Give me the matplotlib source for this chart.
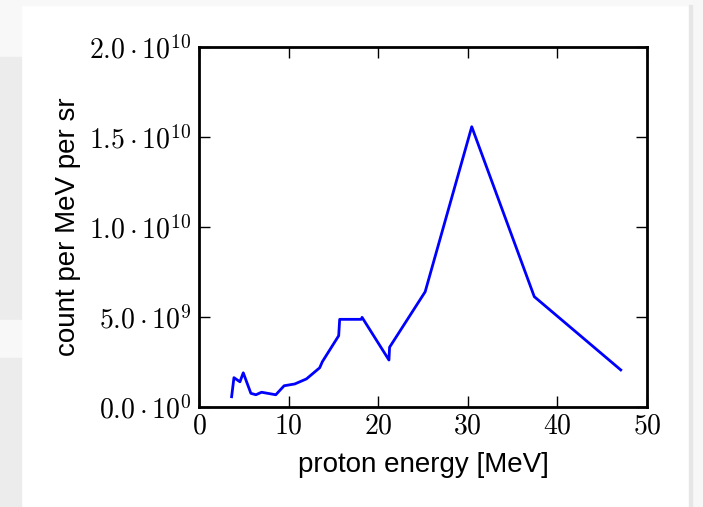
import matplotlib
matplotlib.use("Agg")
import matplotlib.pyplot as plt
from matplotlib.patches import Rectangle
from matplotlib.ticker import FixedLocator, FixedFormatter

# proton spectrum
energy = [3.64, 3.9, 4.57, 4.94, 5.79, 6.35, 6.98, 8.57, 9.5, 10.69, 11.99,
          13.47, 13.77, 15.59, 15.7, 18.1, 18.2, 21.2, 21.27, 25.24, 30.44,
          37.42, 47.07]
counts = [0.057e10, 0.163e10, 0.14e10, 0.19e10, 0.076e10, 0.068e10, 0.082e10,
          0.068e10, 0.118e10, 0.128e10, 0.156e10, 0.218e10, 0.252e10, 0.396e10,
          0.487e10, 0.487e10, 0.498e10, 0.261e10, 0.332e10, 0.64e10, 1.557e10,
          0.613e10, 0.206e10]

x_ticks = [0, 10, 20, 30, 40, 50]
y_ticks = [0, 0.5e10, 1.0e10, 1.5e10, 2.0e10]
y_tick_labels = [r'$0.0\cdot10^{0}$', r'$5.0\cdot10^{9}$', r'$1.0\cdot10^{10}$',
                 r'$1.5\cdot10^{10}$', r'$2.0\cdot10^{10}$']

plt.rcParams['mathtext.fontset'] = 'cm'
plt.rcParams['font.family'] = ['Liberation Sans', 'DejaVu Sans']

fig = plt.figure(figsize=(7.03, 5.07), dpi=100)
fig.patch.set_facecolor('white')

# screenshot background around the card
W, H = 703, 507
bg = [(0, 0, 21, 57, '#f8f8f8'), (0, 57, 21, 263, '#ececec'),
      (0, 320, 21, 38, '#f8f8f8'), (0, 358, 21, 149, '#ececec'),
      (692, 0, 11, 507, '#f7f7f7'), (21, 0, 671, 5, '#f8f8f8')]
for x0, y0, w, h, c in bg:
    fig.patches.append(Rectangle((x0 / W, 1 - (y0 + h) / H), w / W, h / H,
                                 transform=fig.transFigure, color=c, zorder=0))
fig.patches.append(Rectangle((689 / W, 0), 3 / W, 1 - 5 / H,
                             transform=fig.transFigure, color='#e6e6e6', zorder=0))

ax = fig.add_axes([199 / W, 1 - 407 / H, 448 / W, 360 / H])
ax.plot(energy, counts, color='blue', lw=2)

ax.set_xlim(0, 50)
ax.set_ylim(0, 2e10)
ax.xaxis.set_major_locator(FixedLocator(x_ticks))
ax.xaxis.set_major_formatter(FixedFormatter([r'$%d$' % t for t in x_ticks]))
ax.yaxis.set_major_locator(FixedLocator(y_ticks))
ax.yaxis.set_major_formatter(FixedFormatter(y_tick_labels))
ax.tick_params(direction='in', top=True, right=True, length=8, width=1,
               labelsize=20, pad=5)
for s in ax.spines.values():
    s.set_linewidth(2)

ax.set_xlabel('proton energy [MeV]', fontsize=20, labelpad=9)
ax.set_ylabel('count per MeV per sr', fontsize=20, labelpad=6)

fig.savefig('out.png', dpi=100)
